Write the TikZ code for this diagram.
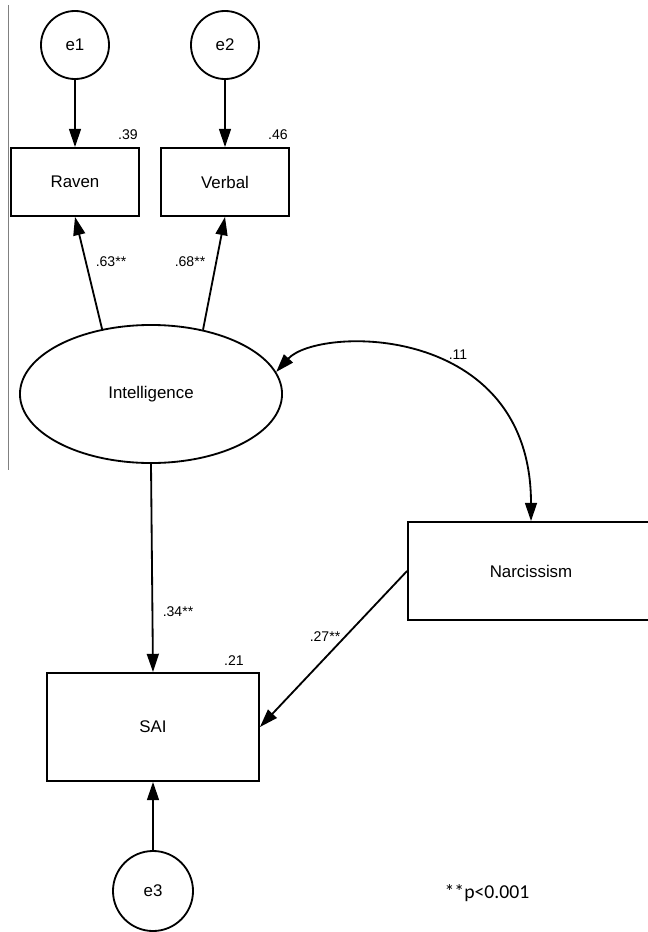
\documentclass[tikz,border=0pt]{standalone}
\usepackage{fontspec}
\setmainfont{Liberation Sans}
\newfontfamily\notefont{Carlito}
\usetikzlibrary{shapes.geometric,arrows.meta}

\begin{document}
\begin{tikzpicture}[x=0.025cm,y=-0.025cm,
	line width=1.3pt,
	>={Triangle[length=13pt,width=8.5pt]},
	err/.style={draw,circle,inner sep=0pt,font=\fontsize{12}{14}\selectfont},
	obs/.style={draw,rectangle,inner sep=0pt,font=\fontsize{12}{14}\selectfont},
	lat/.style={draw,ellipse,inner sep=0pt,font=\fontsize{12}{14}\selectfont},
	num/.style={inner sep=1pt,font=\fontsize{10}{12}\selectfont}]
	
	\useasboundingbox (0,0) rectangle (648,932);
	
	% Draw nodes
	\node[err,minimum size=1.7cm] (e1) at (75,45) {e1};
	\node[err,minimum size=1.7cm] (e2) at (225,45) {e2};
	\node[obs,minimum width=3.2cm,minimum height=1.7cm] (Raven) at (75,182) {Raven};
	\node[obs,minimum width=3.2cm,minimum height=1.7cm] (Verbal) at (225,182) {Verbal};
	\node[lat,minimum width=6.55cm,minimum height=3.45cm] (Int) at (151,394) {Intelligence};
	\node[obs,minimum width=6.15cm,minimum height=2.45cm] (Narc) at (531,571) {Narcissism};
	\node[obs,minimum width=5.3cm,minimum height=2.7cm] (SAI) at (153,727) {SAI};
	\node[err,minimum size=2cm] (e3) at (153,891) {e3};
	
	% Draw labels, the estimates
	\node[num] (r39) at (128,135) {.39};
	\node[num] (r46) at (278,135) {.46};
	\node[num] (r63) at (111,262) {.63**};
	\node[num] (r68) at (190,262) {.68**};
	\node[num] (r11) at (458,355) {.11};
	\node[num] (r34) at (178,612) {.34**};
	\node[num] (r27) at (325,637) {.27**};
	\node[num] (r21) at (234,661) {.21};
	\node[font=\notefont\fontsize{14}{16}\selectfont] (note) at (487,893) {**p<0.001};
	
	% Draw arcs, the paths of the model
	\draw[->] (e1) to (Raven);
	\draw[->] (e2) to (Verbal);
	\draw[->] (Int.127) to (Raven.south);
	\draw[->] (Int.51) to (Verbal.south);
	\draw[->] (Int.south) to (SAI.north);
	\draw[->] (Narc.west) to (SAI.east);
	\draw[->] (e3) to (SAI);
	\draw[<->] (Int.10) .. controls (318,326) and (531,322) .. (Narc.north);
	
	% left margin rule
	\draw[gray,line width=0.6pt] (8,5) -- (8,470);
	
\end{tikzpicture}
\end{document}
